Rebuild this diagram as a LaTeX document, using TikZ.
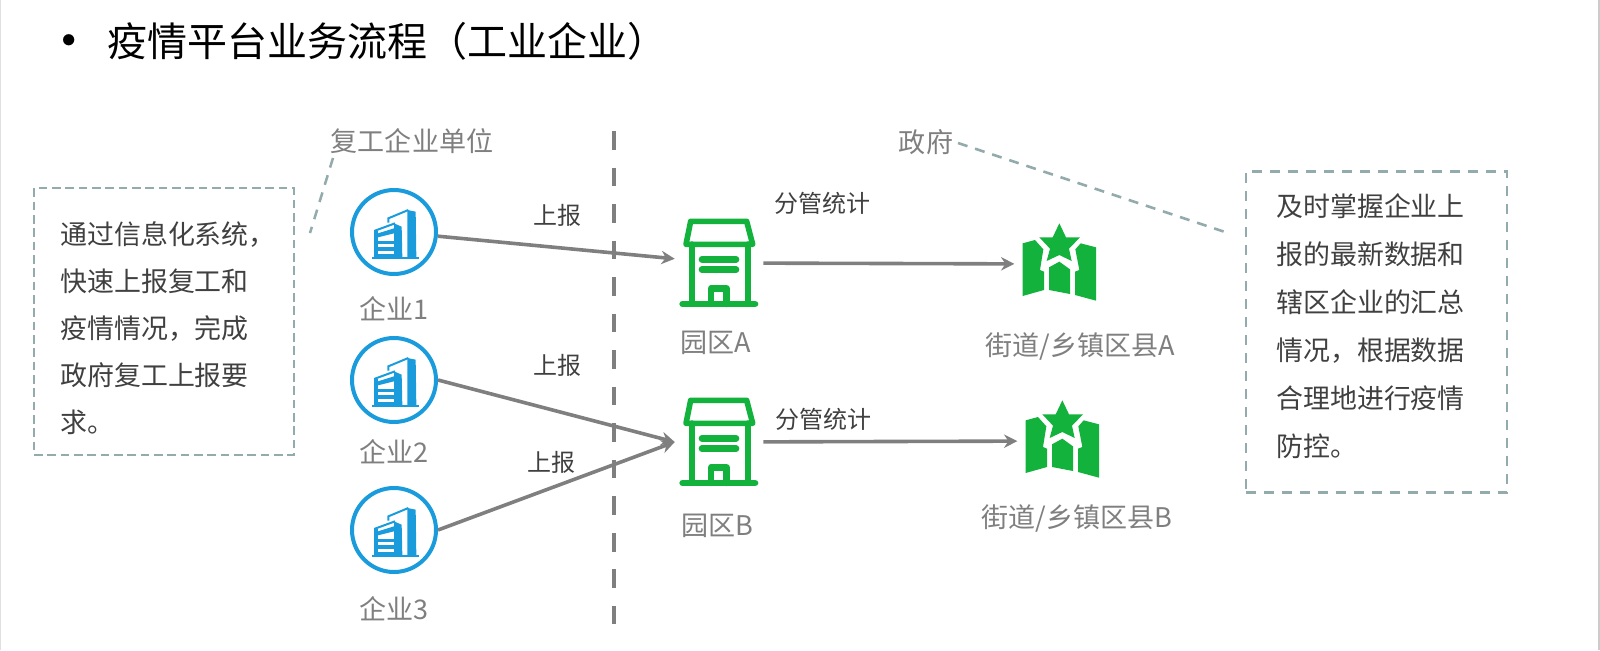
\documentclass[tikz,border=0pt]{standalone}
\usepackage{fontspec}
\setmainfont{Noto Sans CJK SC}
\usetikzlibrary{arrows, arrows.meta}
\definecolor{labelgray}{HTML}{7F7F7F}
\definecolor{textgray}{HTML}{404040}
\definecolor{notegray}{HTML}{94ABAD}
\definecolor{entblue}{HTML}{1A9CDC}
\definecolor{parkgreen}{HTML}{12B23C}
\definecolor{edgegray}{HTML}{CCCCCC}
\tikzset{
  ent/.style={circle, draw=entblue, line width=3pt, inner sep=0pt, minimum size=63pt},
  park/.style={inner sep=0pt, minimum width=66pt, minimum height=68pt},
  dist/.style={inner sep=0pt, minimum width=62pt, minimum height=56pt},
  lab/.style={text=labelgray, font=\fontsize{20.3}{24}\selectfont, inner sep=0pt},
  flow/.style={text=textgray, font=\fontsize{18}{22}\selectfont, inner sep=0pt},
  note/.style={draw=notegray, line width=1.9pt, dash pattern=on 7.5pt off 6pt},
  notetext/.style={text=textgray, align=left, inner sep=0pt, anchor=north west},
  report/.style={draw=labelgray, line width=2.7pt, -{Stealth[length=10pt, width=10pt]}},
  entbuild/.pic={
    \begin{scope}[x=.25pt, y=-.25pt, shift={(-195,-156)}]
      \fill[entblue] (235,90) -- (260,95) -- (262,232) -- (235,232) -- cycle;
      \fill[entblue] (195,130) -- (218,140) -- (220,232) -- (195,232) -- cycle;
      \draw[entblue, line width=1.5pt] (178,128) -- (178,115) -- (238,90);
      \draw[entblue, line width=1.5pt] (138,232) -- (138,152) -- (198,130);
      \fill[entblue] (138,152) rectangle (147,232);
      \fill[entblue] (147,160) -- (195,145) -- (195,160) -- (147,172) -- cycle;
      \fill[entblue] (147,182) rectangle (195,192);
      \fill[entblue] (147,202) rectangle (195,212);
      \fill[entblue] (147,221) rectangle (195,232);
      \fill[entblue] (128,231) rectangle (270,238);
    \end{scope}
  },
  parkhouse/.pic={
    \begin{scope}[x=.25pt, y=-.25pt, shift={(-207,-189)}, draw=parkgreen, line cap=round, line join=round]
      \draw[line width=4.2pt] (122,64) -- (290,64) -- (308,133) -- (108,133) -- cycle;
      \draw[line width=4.6pt] (125,133) -- (125,312);
      \draw[line width=4.6pt] (295,133) -- (295,312);
      \draw[line width=5pt] (98,312) -- (315,312);
      \draw[line width=5pt] (156,178) -- (258,178);
      \draw[line width=5pt] (156,209) -- (258,209);
      \draw[line width=4.8pt] (183,312) -- (183,265) -- (230,265) -- (230,312);
    \end{scope}
  },
  distmap/.pic={
    \begin{scope}[x=.25pt, y=-.25pt, shift={(-138,-162)}, fill=parkgreen]
      \fill (148,40) -- (168,82) -- (210,82) -- (177,116) -- (185,153) -- (148,135) -- (110,153) -- (120,116) -- (88,82) -- (128,82) -- cycle;
      \fill (38,100) -- (75,90) -- (100,118) -- (90,180) -- (102,185) -- (102,240) -- (38,258) -- cycle;
      \fill (117,172) -- (148,155) -- (180,178) -- (180,252) -- (117,240) -- cycle;
      \fill (212,100) -- (258,112) -- (258,272) -- (195,255) -- (195,185) -- (208,180) -- (196,118) -- cycle;
    \end{scope}
  }
}

\begin{document}
\begin{tikzpicture}[x=0.75pt, y=-0.75pt]
  \useasboundingbox (0,0) rectangle (1600,650);

  \coordinate (edgeLtop) at (0.5,0);
  \coordinate (edgeLbot) at (0.5,650);
  \coordinate (edgeRtop) at (1599,0);
  \coordinate (edgeRbot) at (1599,650);
  \draw[edgegray!60, line width=0.8pt] (edgeLtop) -- (edgeLbot);
  \draw[edgegray, line width=1.5pt] (edgeRtop) -- (edgeRbot);

  \node[inner sep=0pt] (bullet) at (69,48) {\fontsize{40}{48}\selectfont •};
  \node[inner sep=0pt, anchor=west] (title) at (107,41) {\fontsize{30}{36}\selectfont 疫情平台业务流程（工业企业）};

  \node[lab] (unit) at (412,141) {复工企业单位};
  \node[lab] (gov) at (926,142) {政府};

  \coordinate (divtop) at (614,131);
  \coordinate (divbot) at (614,624);
  \draw[labelgray, line width=2.6pt, dash pattern=on 14pt off 13.4pt] (divtop) -- (divbot);

  \node[note, dash pattern=on 6.5pt off 3.5pt, minimum width=195pt, minimum height=200pt, inner sep=0pt] (noteL) at (164,321.5) {};
  \node[note, minimum width=196pt, minimum height=241pt, inner sep=0pt] (noteR) at (1376.5,332) {};
  \node[notetext, font=\fontsize{20.2}{35.4}\selectfont] (noteLtext) at (60,221) {通过信息化系统，\\快速上报复工和\\疫情情况，完成\\政府复工上报要\\求。};
  \node[notetext, font=\fontsize{20.2}{36}\selectfont] (noteRtext) at (1276,193) {及时掌握企业上\\报的最新数据和\\辖区企业的汇总\\情况，根据数据\\合理地进行疫情\\防控。};

  \coordinate (unitstart) at (333,158);
  \coordinate (unitend) at (310,233);
  \coordinate (govstart) at (958,143);
  \coordinate (govend) at (1225,232);
  \draw[note] (unitstart) -- (unitend);
  \draw[note] (govstart) -- (govend);

  \node[ent] (ent1) at (394,232) {};
  \node[ent] (ent2) at (394,380) {};
  \node[ent] (ent3) at (394,530) {};
  \pic at (ent1) {entbuild};
  \pic at (ent2) {entbuild};
  \pic at (ent3) {entbuild};
  \node[lab] (ent1lab) at (394,309) {企业1};
  \node[lab] (ent2lab) at (394,452) {企业2};
  \node[lab] (ent3lab) at (394,609) {企业3};

  \node[park] (parkA) at (719,263) {};
  \node[park] (parkB) at (719,442) {};
  \pic at (parkA) {parkhouse};
  \pic at (parkB) {parkhouse};
  \node[lab] (parkAlab) at (716,343) {园区A};
  \node[lab] (parkBlab) at (717,526) {园区B};

  \node[dist] (distA) at (1056,264) {};
  \node[dist] (distB) at (1059,441) {};
  \pic at (distA) {distmap};
  \pic at (distB) {distmap};
  \node[lab] (distAlab) at (1080,346) {街道/乡镇区县A};
  \node[lab] (distBlab) at (1077,518) {街道/乡镇区县B};

  \draw[report] (ent1) -- (parkA);
  \draw[report] (ent2.east) -- (parkB.west);
  \draw[report] (ent3.east) -- (parkB.west);
  \draw[report] (parkA) -- (distA);
  \draw[report] (parkB) -- (distB);

  \node[flow] (rep1) at (557,215) {上报};
  \node[flow] (rep2) at (557,365) {上报};
  \node[flow] (rep3) at (551,462) {上报};
  \node[flow] (stat1) at (822,203) {分管统计};
  \node[flow] (stat2) at (823,419) {分管统计};
\end{tikzpicture}
\end{document}
